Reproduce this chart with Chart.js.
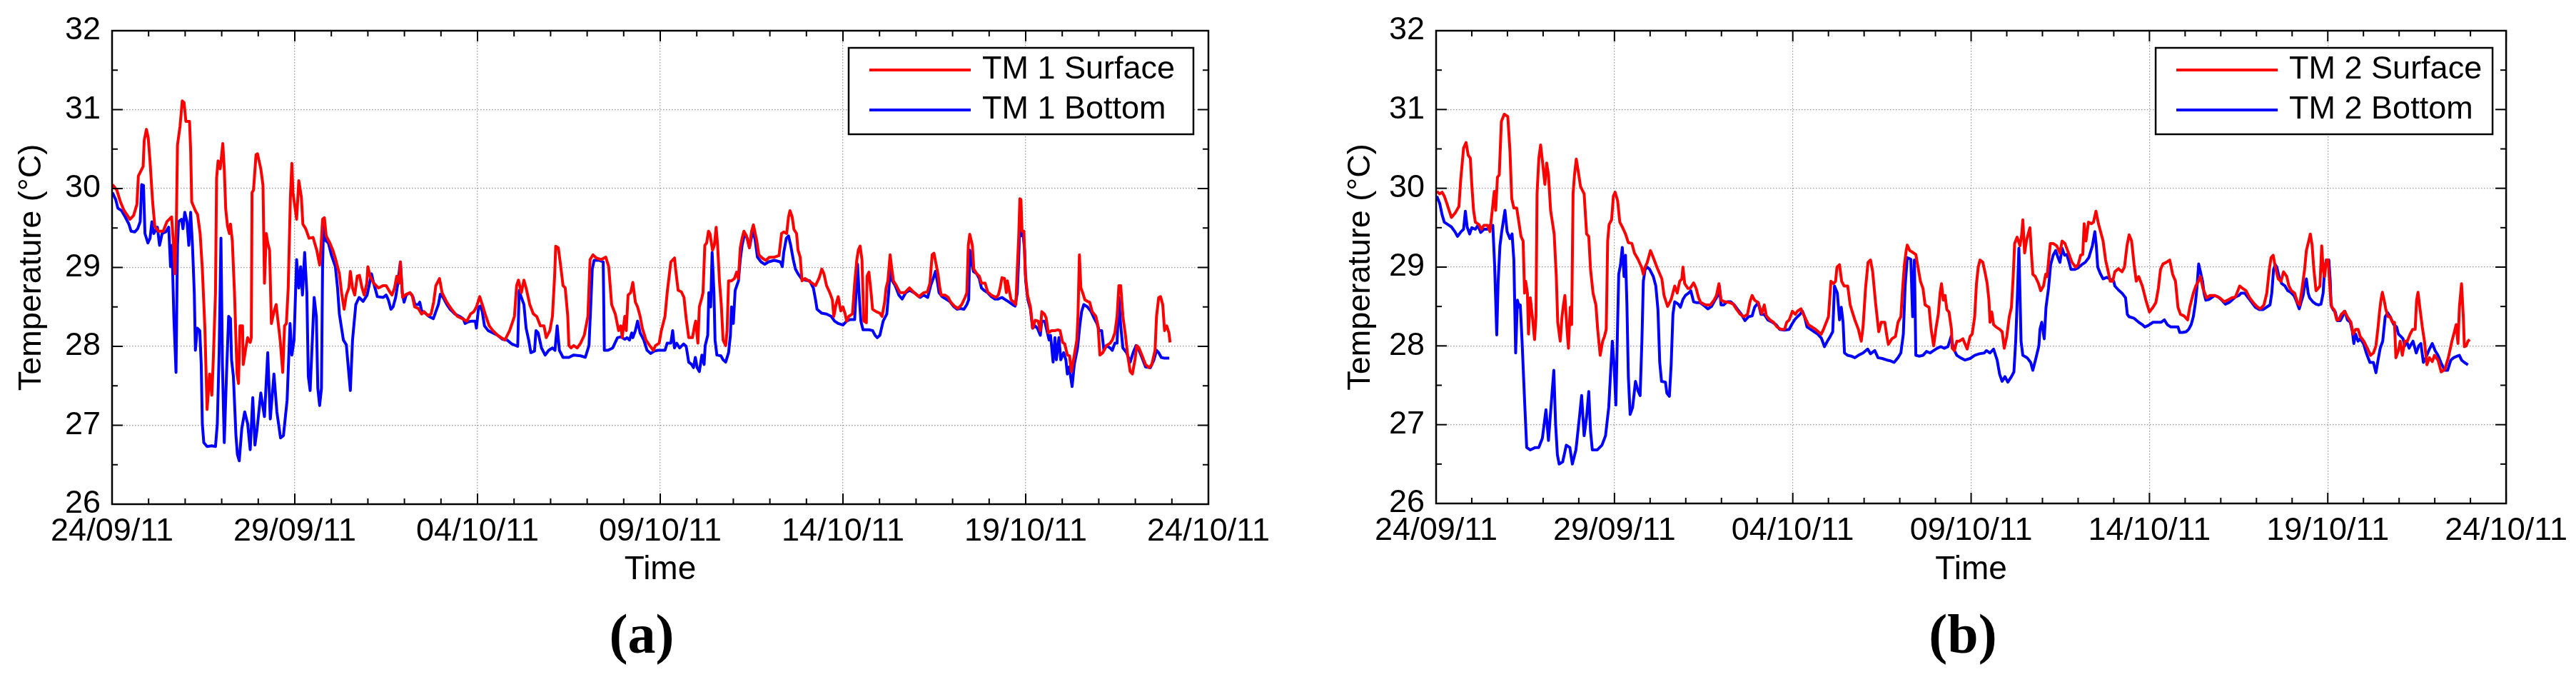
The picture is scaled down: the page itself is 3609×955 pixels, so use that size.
<!DOCTYPE html>
<html>
<head>
<meta charset="utf-8">
<title>TM 1 / TM 2 temperature</title>
<script src="https://cdn.jsdelivr.net/npm/chart.js@4.4.1/dist/chart.umd.min.js"></script>
<style>
  html, body { margin: 0; padding: 0; background: #fff; }
  body { width: 3609px; height: 955px; position: relative; overflow: hidden; }
  canvas { position: absolute; top: 0; }
  #chartA { left: 0; }
  #chartB { left: 1804px; }
</style>
</head>
<body>
<canvas id="chartA" width="1804" height="955"></canvas>
<canvas id="chartB" width="1805" height="955"></canvas>
<script>
// ---- data: [days since 24/09/11 00:00, temperature °C] ----
const xTickDays = [0, 5, 10, 15, 20, 25, 30];
const xTickLabels = ['24/09/11', '29/09/11', '04/10/11', '09/10/11', '14/10/11', '19/10/11', '24/10/11'];
const yTickValues = [26, 27, 28, 29, 30, 31, 32];

const tm1Surface = [
  [0.01,30.05],[0.13,29.98],[0.23,29.83],[0.33,29.72],[0.49,29.61],[0.59,29.66],[0.68,29.80],[0.72,30.16],[0.85,30.28],[0.88,30.61],
  [0.94,30.75],[0.99,30.64],[1.04,30.34],[1.11,29.83],[1.17,29.52],[1.27,29.46],[1.40,29.46],[1.50,29.58],[1.63,29.64],[1.69,29.22],
  [1.72,28.92],[1.76,29.58],[1.79,30.55],[1.86,30.79],[1.92,31.11],[1.97,31.09],[2.02,30.85],[2.12,30.85],[2.15,30.49],[2.18,29.83],
  [2.28,29.72],[2.34,29.67],[2.41,29.43],[2.47,28.98],[2.54,28.23],[2.60,27.20],[2.67,27.65],[2.73,27.38],[2.77,27.83],[2.83,28.68],
  [2.86,30.13],[2.90,30.35],[2.96,30.25],[3.03,30.57],[3.07,30.25],[3.11,29.74],[3.16,29.52],[3.21,29.43],[3.24,29.55],[3.29,29.34],
  [3.35,28.68],[3.42,27.65],[3.46,27.53],[3.50,28.26],[3.57,28.26],[3.59,27.77],[3.65,27.95],[3.71,28.11],[3.78,28.05],[3.81,28.11],
  [3.83,29.95],[3.87,29.98],[3.94,30.43],[3.98,30.44],[4.07,30.25],[4.13,30.04],[4.17,28.80],[4.22,29.43],[4.26,29.31],[4.31,29.22],
  [4.36,28.29],[4.43,28.44],[4.49,28.53],[4.54,28.32],[4.60,28.08],[4.67,27.67],[4.72,28.26],[4.77,28.29],[4.82,28.74],[4.88,29.89],
  [4.92,30.32],[4.95,29.95],[5.05,29.61],[5.11,30.10],[5.18,29.89],[5.22,29.55],[5.30,29.49],[5.39,29.37],[5.50,29.38],[5.60,29.22],
  [5.68,29.03],[5.72,29.28],[5.76,29.61],[5.81,29.63],[5.86,29.40],[5.96,29.31],[6.04,29.22],[6.12,29.10],[6.22,28.92],[6.28,28.68],
  [6.35,28.47],[6.41,28.65],[6.48,28.74],[6.52,28.95],[6.58,28.74],[6.64,28.65],[6.71,28.89],[6.77,28.90],[6.84,28.74],[6.90,28.65],
  [6.97,28.80],[7.00,29.01],[7.06,28.89],[7.16,28.80],[7.29,28.74],[7.42,28.77],[7.50,28.77],[7.60,28.69],[7.66,28.65],[7.73,28.74],
  [7.79,28.89],[7.86,28.80],[7.89,29.07],[7.95,28.62],[8.05,28.66],[8.15,28.68],[8.21,28.65],[8.28,28.50],[8.38,28.48],[8.47,28.41],
  [8.54,28.44],[8.64,28.39],[8.73,28.41],[8.80,28.56],[8.86,28.77],[8.96,28.86],[9.03,28.68],[9.16,28.56],[9.29,28.47],[9.45,28.38],
  [9.58,28.35],[9.71,28.32],[9.81,28.41],[9.90,28.44],[9.97,28.50],[10.06,28.63],[10.13,28.53],[10.23,28.38],[10.32,28.26],[10.42,28.20],
  [10.55,28.14],[10.75,28.08],[10.88,28.20],[11.01,28.38],[11.07,28.77],[11.12,28.84],[11.20,28.68],[11.27,28.84],[11.33,28.74],[11.43,28.53],
  [11.53,28.41],[11.62,28.38],[11.72,28.26],[11.82,28.26],[11.88,28.11],[11.98,28.20],[12.05,28.38],[12.11,28.89],[12.14,29.27],[12.21,29.25],
  [12.27,29.04],[12.34,28.77],[12.40,28.74],[12.47,28.38],[12.50,28.01],[12.56,27.98],[12.63,28.01],[12.73,27.98],[12.82,28.04],[12.92,28.14],
  [13.02,28.38],[13.08,29.10],[13.16,29.16],[13.25,29.12],[13.38,29.10],[13.51,29.13],[13.59,29.01],[13.67,28.53],[13.77,28.41],[13.86,28.20],
  [13.92,28.26],[13.96,28.11],[14.03,28.38],[14.07,28.20],[14.12,28.65],[14.19,28.68],[14.25,28.81],[14.32,28.56],[14.38,28.50],[14.45,28.38],
  [14.51,28.23],[14.61,28.08],[14.71,28.01],[14.81,27.95],[14.87,28.01],[14.97,28.04],[15.03,28.20],[15.13,28.38],[15.19,28.68],[15.29,29.07],
  [15.39,29.12],[15.42,28.98],[15.49,28.71],[15.58,28.69],[15.65,28.62],[15.71,28.35],[15.78,28.11],[15.88,28.11],[15.94,28.26],[15.97,28.32],
  [16.03,28.04],[16.07,28.50],[16.14,28.62],[16.17,28.68],[16.22,29.28],[16.27,29.31],[16.32,29.46],[16.36,29.43],[16.43,29.22],[16.48,29.28],
  [16.53,29.51],[16.57,29.28],[16.62,28.83],[16.67,28.53],[16.72,28.08],[16.79,28.01],[16.83,28.20],[16.87,28.83],[16.95,28.83],[17.03,28.86],
  [17.09,28.94],[17.14,28.86],[17.19,29.25],[17.24,29.37],[17.29,29.46],[17.36,29.40],[17.44,29.25],[17.50,29.46],[17.55,29.54],[17.64,29.34],
  [17.70,29.16],[17.79,29.12],[17.89,29.09],[17.99,29.13],[18.12,29.13],[18.25,29.15],[18.32,29.43],[18.38,29.45],[18.46,29.43],[18.51,29.64],
  [18.55,29.72],[18.61,29.64],[18.66,29.48],[18.73,29.43],[18.77,29.22],[18.83,29.13],[18.88,28.83],[18.96,28.86],[19.06,28.83],[19.16,28.80],
  [19.25,28.77],[19.35,28.87],[19.42,28.98],[19.48,28.92],[19.55,28.77],[19.64,28.68],[19.71,28.59],[19.75,28.38],[19.81,28.53],[19.87,28.63],
  [19.94,28.45],[20.00,28.50],[20.06,28.41],[20.10,28.32],[20.16,28.38],[20.26,28.41],[20.32,28.80],[20.38,29.10],[20.42,29.22],[20.47,29.27],
  [20.52,29.10],[20.57,28.32],[20.64,28.30],[20.66,28.89],[20.71,28.94],[20.77,28.68],[20.81,28.47],[20.91,28.44],[21.01,28.42],[21.07,28.38],
  [21.14,28.56],[21.18,28.74],[21.23,28.83],[21.29,29.16],[21.33,29.01],[21.38,28.83],[21.46,28.77],[21.56,28.68],[21.69,28.68],[21.82,28.74],
  [21.95,28.68],[22.08,28.63],[22.21,28.68],[22.31,28.69],[22.38,28.80],[22.44,29.16],[22.49,29.18],[22.60,28.92],[22.65,28.74],[22.69,28.65],
  [22.79,28.65],[22.88,28.62],[22.95,28.56],[23.05,28.51],[23.15,28.48],[23.25,28.53],[23.34,28.62],[23.39,28.68],[23.43,29.28],[23.47,29.42],
  [23.54,29.28],[23.58,28.98],[23.66,28.92],[23.73,28.89],[23.79,28.80],[23.89,28.80],[23.96,28.69],[24.06,28.65],[24.19,28.62],[24.25,28.65],
  [24.30,28.74],[24.35,28.87],[24.42,28.86],[24.47,28.68],[24.50,28.83],[24.55,28.71],[24.60,28.59],[24.68,28.56],[24.73,28.53],[24.77,28.98],
  [24.81,29.40],[24.84,29.87],[24.87,29.86],[24.90,29.46],[24.95,29.46],[24.99,28.92],[25.05,28.65],[25.13,28.50],[25.19,28.23],[25.26,28.33],
  [25.34,28.32],[25.40,28.20],[25.44,28.44],[25.51,28.41],[25.56,28.36],[25.62,28.17],[25.71,28.20],[25.81,28.20],[25.88,28.21],[25.94,28.20],
  [26.01,28.05],[26.07,28.03],[26.14,27.89],[26.20,27.88],[26.25,27.68],[26.32,27.86],[26.40,28.08],[26.43,28.38],[26.47,29.16],[26.51,28.74],
  [26.56,28.68],[26.62,28.59],[26.69,28.57],[26.75,28.56],[26.82,28.44],[26.92,28.38],[26.98,28.26],[27.03,27.89],[27.11,27.92],[27.21,28.01],
  [27.31,28.04],[27.37,28.08],[27.44,28.17],[27.50,28.38],[27.55,28.77],[27.60,28.77],[27.66,28.38],[27.73,28.14],[27.79,27.89],[27.86,27.68],
  [27.92,27.65],[27.99,27.83],[28.04,28.01],[28.10,27.98],[28.18,27.89],[28.28,27.77],[28.38,27.73],[28.45,27.77],[28.54,27.95],[28.58,28.38],
  [28.64,28.62],[28.69,28.63],[28.75,28.53],[28.80,28.20],[28.86,28.26],[28.92,28.17],[28.95,28.05]
];

const tm1Bottom = [
  [0.01,29.95],[0.10,29.86],[0.16,29.75],[0.26,29.72],[0.36,29.64],[0.46,29.55],[0.52,29.46],[0.62,29.45],[0.70,29.49],[0.77,29.58],
  [0.81,30.05],[0.86,30.04],[0.90,29.43],[0.98,29.31],[1.04,29.37],[1.09,29.58],[1.14,29.43],[1.24,29.51],[1.30,29.28],[1.37,29.43],
  [1.47,29.45],[1.55,29.51],[1.60,29.01],[1.64,29.28],[1.69,28.38],[1.75,27.67],[1.79,29.28],[1.82,29.58],[1.90,29.61],[1.94,29.49],
  [1.99,29.70],[2.05,29.58],[2.10,29.28],[2.15,29.70],[2.20,29.28],[2.25,28.68],[2.28,27.95],[2.33,28.23],[2.40,28.20],[2.44,27.77],
  [2.47,27.02],[2.51,26.78],[2.60,26.73],[2.73,26.74],[2.83,26.73],[2.88,27.02],[2.93,27.92],[2.98,29.37],[3.02,27.77],[3.07,26.78],
  [3.13,27.62],[3.19,28.38],[3.24,28.35],[3.27,27.83],[3.32,27.62],[3.39,26.87],[3.43,26.63],[3.48,26.55],[3.55,26.96],[3.63,27.17],
  [3.71,27.02],[3.78,26.69],[3.85,27.35],[3.91,26.75],[3.97,26.96],[4.07,27.41],[4.17,27.11],[4.26,27.92],[4.33,27.08],[4.43,27.65],
  [4.51,27.17],[4.61,26.84],[4.69,26.87],[4.79,27.32],[4.87,28.29],[4.92,27.89],[4.98,28.08],[5.05,29.10],[5.11,28.74],[5.16,29.01],
  [5.21,28.65],[5.27,29.19],[5.33,28.68],[5.37,27.62],[5.42,27.44],[5.48,28.08],[5.53,28.62],[5.59,28.38],[5.63,27.47],[5.68,27.25],
  [5.73,27.47],[5.76,28.98],[5.79,29.61],[5.85,29.34],[5.92,29.31],[6.00,29.16],[6.11,29.01],[6.17,28.74],[6.22,28.41],[6.33,28.08],
  [6.41,28.02],[6.48,27.65],[6.52,27.44],[6.58,28.08],[6.67,28.53],[6.76,28.62],[6.87,28.57],[6.98,28.65],[7.10,28.92],[7.16,28.80],
  [7.26,28.63],[7.42,28.62],[7.50,28.65],[7.56,28.59],[7.63,28.47],[7.69,28.50],[7.76,28.62],[7.82,28.80],[7.89,29.07],[7.94,28.68],
  [7.99,28.56],[8.05,28.65],[8.15,28.68],[8.23,28.63],[8.29,28.53],[8.38,28.53],[8.42,28.56],[8.47,28.45],[8.57,28.42],[8.67,28.38],
  [8.79,28.35],[8.86,28.44],[8.93,28.53],[8.98,28.66],[9.06,28.62],[9.16,28.53],[9.25,28.47],[9.38,28.41],[9.51,28.38],[9.61,28.35],
  [9.66,28.29],[9.74,28.31],[9.84,28.32],[9.94,28.32],[9.97,28.23],[10.03,28.50],[10.08,28.51],[10.13,28.44],[10.19,28.26],[10.29,28.20],
  [10.42,28.17],[10.55,28.14],[10.68,28.09],[10.81,28.08],[10.94,28.03],[11.10,28.00],[11.14,28.71],[11.20,28.62],[11.27,28.53],[11.33,28.23],
  [11.40,28.08],[11.46,27.92],[11.56,27.94],[11.60,28.20],[11.66,28.17],[11.75,27.98],[11.85,27.89],[11.95,27.95],[12.05,27.98],[12.12,27.95],
  [12.18,28.26],[12.24,27.95],[12.34,27.86],[12.50,27.86],[12.63,27.89],[12.82,27.88],[12.95,27.86],[13.05,28.01],[13.10,28.53],[13.14,28.98],
  [13.19,29.09],[13.34,29.09],[13.44,29.07],[13.47,27.95],[13.57,27.95],[13.70,27.98],[13.83,28.11],[13.93,28.12],[14.03,28.09],[14.09,28.11],
  [14.16,28.08],[14.22,28.17],[14.25,28.11],[14.32,28.20],[14.38,28.32],[14.45,28.17],[14.55,28.08],[14.64,27.95],[14.74,27.91],[14.84,27.94],
  [14.94,27.95],[15.03,27.95],[15.13,27.95],[15.19,28.04],[15.29,28.04],[15.34,28.20],[15.39,27.98],[15.45,28.04],[15.53,27.98],[15.64,28.03],
  [15.71,28.00],[15.78,27.80],[15.86,27.77],[15.91,27.73],[15.96,27.86],[16.01,27.73],[16.07,27.68],[16.14,27.89],[16.20,27.77],[16.23,28.01],
  [16.30,28.14],[16.33,28.68],[16.38,28.50],[16.42,29.19],[16.47,28.68],[16.50,28.08],[16.55,27.89],[16.66,27.88],[16.72,27.83],[16.79,27.80],
  [16.87,27.92],[16.92,28.14],[16.95,28.50],[17.00,28.29],[17.05,28.71],[17.14,28.83],[17.19,29.10],[17.24,29.28],[17.31,29.43],[17.38,29.37],
  [17.44,29.25],[17.54,29.48],[17.60,29.34],[17.66,29.13],[17.76,29.07],[17.86,29.04],[17.96,29.07],[18.12,29.09],[18.29,29.07],[18.34,29.01],
  [18.38,29.19],[18.45,29.37],[18.51,29.40],[18.57,29.28],[18.64,29.10],[18.70,28.98],[18.77,28.92],[18.86,28.86],[18.96,28.84],[19.09,28.83],
  [19.19,28.74],[19.25,28.59],[19.29,28.47],[19.42,28.42],[19.55,28.41],[19.68,28.38],[19.77,28.32],[19.87,28.29],[20.00,28.27],[20.10,28.32],
  [20.19,28.34],[20.32,28.34],[20.40,29.04],[20.44,28.68],[20.49,28.32],[20.55,28.21],[20.71,28.21],[20.81,28.20],[20.88,28.14],[20.94,28.11],
  [21.01,28.14],[21.10,28.32],[21.20,28.41],[21.25,28.68],[21.30,29.04],[21.35,28.83],[21.43,28.77],[21.53,28.65],[21.62,28.60],[21.72,28.68],
  [21.82,28.71],[21.95,28.68],[22.11,28.62],[22.21,28.65],[22.32,28.62],[22.40,28.77],[22.47,28.86],[22.53,28.95],[22.58,28.83],[22.63,28.68],
  [22.71,28.63],[22.82,28.60],[22.92,28.57],[23.02,28.51],[23.12,28.47],[23.21,28.48],[23.31,28.47],[23.39,28.53],[23.44,28.59],[23.47,29.22],
  [23.52,29.07],[23.57,28.95],[23.66,28.92],[23.73,28.86],[23.79,28.74],[23.86,28.71],[23.96,28.68],[24.06,28.63],[24.16,28.60],[24.25,28.60],
  [24.35,28.62],[24.45,28.59],[24.55,28.56],[24.64,28.53],[24.71,28.51],[24.77,28.68],[24.81,29.13],[24.84,29.55],[24.87,29.40],[24.92,29.46],
  [24.97,29.22],[25.00,28.83],[25.06,28.59],[25.13,28.47],[25.19,28.23],[25.26,28.26],[25.32,28.23],[25.40,28.14],[25.44,28.32],[25.52,28.32],
  [25.58,28.20],[25.64,28.08],[25.68,28.14],[25.75,27.80],[25.80,28.11],[25.84,27.83],[25.91,28.11],[25.96,27.83],[26.04,27.92],[26.10,27.83],
  [26.14,27.65],[26.19,27.74],[26.27,27.49],[26.33,27.77],[26.42,27.98],[26.48,28.26],[26.53,28.44],[26.59,28.53],[26.69,28.50],[26.79,28.44],
  [26.88,28.35],[26.95,28.29],[27.01,28.20],[27.08,28.20],[27.14,27.95],[27.21,28.01],[27.31,27.98],[27.37,27.95],[27.44,28.04],[27.50,28.04],
  [27.55,28.62],[27.60,28.26],[27.66,27.98],[27.76,27.92],[27.86,27.80],[27.94,27.92],[28.02,28.01],[28.10,27.95],[28.18,27.86],[28.28,27.74],
  [28.41,27.73],[28.51,27.83],[28.58,27.95],[28.64,27.92],[28.71,27.86],[28.80,27.85],[28.93,27.85]
];

const tm2Surface = [
  [0.02,29.96],[0.10,29.93],[0.17,29.95],[0.23,29.90],[0.30,29.81],[0.37,29.71],[0.43,29.63],[0.54,29.69],[0.64,29.77],[0.69,30.11],
  [0.77,30.51],[0.84,30.58],[0.90,30.42],[0.96,30.38],[1.00,30.05],[1.05,29.72],[1.10,29.57],[1.20,29.54],[1.27,29.48],[1.34,29.53],
  [1.44,29.53],[1.51,29.45],[1.56,29.66],[1.63,29.96],[1.67,29.72],[1.72,30.14],[1.77,30.17],[1.83,30.85],[1.91,30.94],[2.01,30.91],
  [2.07,30.48],[2.12,29.87],[2.18,29.75],[2.26,29.75],[2.31,29.60],[2.38,29.39],[2.44,29.33],[2.48,28.67],[2.51,28.82],[2.56,28.67],
  [2.59,28.15],[2.64,28.61],[2.70,28.37],[2.76,28.08],[2.80,28.37],[2.83,29.93],[2.88,30.38],[2.93,30.55],[2.98,30.35],[3.05,30.05],
  [3.10,30.32],[3.15,30.17],[3.21,29.72],[3.28,29.51],[3.31,29.42],[3.37,28.88],[3.41,28.30],[3.48,28.06],[3.53,28.37],[3.57,28.52],
  [3.61,28.64],[3.67,28.21],[3.71,27.97],[3.76,28.49],[3.80,28.27],[3.84,29.93],[3.88,30.17],[3.93,30.37],[3.98,30.23],[4.05,30.02],
  [4.15,29.93],[4.22,29.42],[4.28,29.39],[4.33,28.97],[4.40,28.67],[4.48,28.52],[4.53,28.21],[4.60,27.88],[4.67,28.06],[4.72,28.12],
  [4.77,28.21],[4.81,29.33],[4.85,29.54],[4.92,29.60],[4.97,29.90],[5.02,29.95],[5.09,29.84],[5.15,29.57],[5.22,29.51],[5.31,29.42],
  [5.39,29.31],[5.49,29.30],[5.56,29.18],[5.66,29.10],[5.76,29.00],[5.81,28.91],[5.86,29.00],[5.92,29.06],[6.01,29.21],[6.09,29.12],
  [6.19,29.00],[6.33,28.85],[6.39,28.64],[6.49,28.50],[6.59,28.59],[6.69,28.76],[6.76,28.67],[6.83,28.82],[6.89,28.85],[6.92,29.00],
  [6.97,28.79],[7.06,28.73],[7.12,28.73],[7.22,28.80],[7.29,28.73],[7.36,28.61],[7.42,28.55],[7.56,28.52],[7.69,28.52],[7.79,28.58],
  [7.86,28.64],[7.93,28.79],[7.99,28.58],[8.09,28.56],[8.23,28.55],[8.33,28.53],[8.43,28.46],[8.53,28.40],[8.63,28.37],[8.73,28.40],
  [8.80,28.56],[8.86,28.64],[8.93,28.58],[9.03,28.55],[9.13,28.41],[9.20,28.52],[9.26,28.38],[9.36,28.33],[9.46,28.30],[9.56,28.24],
  [9.67,28.21],[9.77,28.21],[9.83,28.30],[9.90,28.33],[9.99,28.44],[10.07,28.40],[10.13,28.44],[10.23,28.47],[10.33,28.37],[10.44,28.27],
  [10.54,28.24],[10.64,28.21],[10.74,28.17],[10.80,28.15],[10.87,28.22],[10.94,28.30],[11.00,28.37],[11.07,28.82],[11.14,28.79],[11.20,28.82],
  [11.24,29.00],[11.31,29.03],[11.37,28.82],[11.44,28.76],[11.54,28.76],[11.61,28.52],[11.67,28.43],[11.74,28.33],[11.84,28.21],[11.92,28.06],
  [11.97,28.24],[12.04,28.73],[12.11,29.06],[12.18,29.09],[12.24,28.94],[12.32,28.55],[12.41,28.18],[12.48,28.30],[12.58,28.30],[12.64,28.12],
  [12.68,28.02],[12.78,28.09],[12.88,28.12],[12.95,28.30],[13.03,28.37],[13.08,28.73],[13.13,29.03],[13.18,29.21],[13.21,29.28],[13.28,29.21],
  [13.35,29.19],[13.45,29.16],[13.51,29.00],[13.58,28.82],[13.65,28.73],[13.71,28.52],[13.82,28.49],[13.88,28.21],[13.95,28.00],[14.02,28.24],
  [14.08,28.40],[14.13,28.67],[14.17,28.79],[14.22,28.58],[14.27,28.64],[14.32,28.46],[14.38,28.43],[14.45,28.21],[14.47,27.97],[14.53,27.94],
  [14.60,28.06],[14.67,28.06],[14.77,28.09],[14.89,27.96],[14.97,28.12],[15.03,28.15],[15.10,28.37],[15.15,28.79],[15.20,29.00],[15.25,29.09],
  [15.33,29.06],[15.40,28.91],[15.45,28.79],[15.50,28.58],[15.53,28.30],[15.58,28.43],[15.63,28.27],[15.70,28.24],[15.80,28.21],[15.87,28.18],
  [15.93,27.97],[16.00,28.12],[16.07,28.37],[16.13,28.49],[16.18,28.88],[16.22,29.30],[16.29,29.38],[16.37,29.27],[16.42,29.42],[16.45,29.60],
  [16.50,29.18],[16.55,29.33],[16.60,29.42],[16.65,29.50],[16.69,29.18],[16.73,28.91],[16.80,28.88],[16.89,28.79],[16.95,28.70],[17.03,28.76],
  [17.09,28.91],[17.13,28.88],[17.18,29.12],[17.22,29.30],[17.30,29.30],[17.40,29.27],[17.49,29.18],[17.55,29.33],[17.63,29.30],[17.73,29.18],
  [17.83,29.06],[17.93,29.00],[18.00,29.03],[18.07,29.15],[18.13,29.16],[18.17,29.55],[18.22,29.33],[18.29,29.57],[18.37,29.55],[18.43,29.57],
  [18.50,29.71],[18.57,29.55],[18.63,29.45],[18.70,29.33],[18.77,29.09],[18.83,28.97],[18.90,28.82],[18.97,28.82],[19.03,28.94],[19.13,28.98],
  [19.23,28.94],[19.30,29.00],[19.37,29.27],[19.43,29.41],[19.50,29.33],[19.57,29.03],[19.63,28.82],[19.70,28.88],[19.80,28.76],[19.90,28.58],
  [20.00,28.43],[20.10,28.49],[20.18,28.55],[20.25,28.73],[20.31,28.97],[20.38,29.04],[20.47,29.06],[20.57,29.09],[20.65,28.91],[20.73,28.82],
  [20.80,28.49],[20.87,28.40],[20.97,28.38],[21.07,28.33],[21.13,28.49],[21.23,28.67],[21.30,28.76],[21.37,28.82],[21.43,28.88],[21.50,28.73],
  [21.60,28.61],[21.70,28.64],[21.83,28.64],[21.97,28.61],[22.10,28.56],[22.23,28.59],[22.31,28.61],[22.41,28.62],[22.53,28.76],[22.61,28.73],
  [22.71,28.70],[22.81,28.61],[22.91,28.55],[23.01,28.50],[23.11,28.47],[23.21,28.52],[23.29,28.67],[23.36,28.97],[23.41,29.12],[23.47,29.15],
  [23.53,29.00],[23.61,28.85],[23.69,28.82],[23.76,28.94],[23.85,28.88],[23.91,28.76],[23.98,28.70],[24.07,28.67],[24.15,28.55],[24.21,28.52],
  [24.28,28.73],[24.35,28.97],[24.40,29.21],[24.47,29.34],[24.51,29.42],[24.56,29.28],[24.61,28.97],[24.67,28.70],[24.73,28.73],[24.78,28.76],
  [24.83,29.27],[24.87,28.97],[24.91,28.88],[24.96,29.09],[25.01,29.09],[25.07,28.67],[25.11,28.49],[25.18,28.46],[25.25,28.33],[25.31,28.33],
  [25.38,28.40],[25.47,28.44],[25.55,28.37],[25.65,28.30],[25.71,28.15],[25.78,28.21],[25.85,28.21],[25.91,28.12],[26.01,28.06],[26.11,27.97],
  [26.20,27.88],[26.28,27.91],[26.35,28.00],[26.41,28.24],[26.45,28.43],[26.49,28.58],[26.53,28.68],[26.58,28.58],[26.63,28.46],[26.69,28.37],
  [26.75,28.37],[26.81,28.30],[26.87,28.30],[26.91,27.85],[26.98,27.94],[27.03,28.06],[27.09,27.88],[27.16,28.06],[27.23,28.06],[27.31,28.15],
  [27.38,28.21],[27.45,28.21],[27.49,28.58],[27.53,28.68],[27.58,28.49],[27.65,28.24],[27.71,28.06],[27.78,27.76],[27.85,27.85],[27.93,27.80],
  [27.99,27.88],[28.09,27.82],[28.18,27.67],[28.28,27.70],[28.38,27.85],[28.48,28.06],[28.55,28.18],[28.60,28.27],[28.65,28.03],[28.69,28.49],
  [28.75,28.79],[28.80,28.37],[28.83,27.99],[28.88,28.00],[28.93,28.06],[28.98,28.08]
];

const tm2Bottom = [
  [0.02,29.90],[0.10,29.81],[0.17,29.66],[0.23,29.57],[0.33,29.54],[0.43,29.51],[0.54,29.44],[0.60,29.39],[0.70,29.45],[0.77,29.48],
  [0.82,29.71],[0.87,29.51],[0.94,29.42],[1.00,29.50],[1.10,29.48],[1.17,29.53],[1.25,29.44],[1.34,29.48],[1.44,29.48],[1.51,29.53],
  [1.59,29.53],[1.64,29.03],[1.70,28.14],[1.74,28.82],[1.79,29.27],[1.84,29.45],[1.89,29.60],[1.93,29.72],[1.99,29.45],[2.07,29.36],
  [2.13,29.42],[2.18,29.09],[2.23,27.91],[2.28,28.58],[2.33,28.49],[2.36,28.52],[2.41,28.06],[2.48,27.31],[2.54,26.71],[2.64,26.68],
  [2.78,26.71],[2.88,26.71],[2.98,26.83],[3.08,27.19],[3.15,26.80],[3.21,27.16],[3.30,27.69],[3.35,27.01],[3.40,26.62],[3.45,26.50],
  [3.55,26.53],[3.65,26.74],[3.75,26.71],[3.82,26.50],[3.92,26.68],[4.02,27.10],[4.08,27.37],[4.15,26.86],[4.22,27.10],[4.28,27.42],
  [4.33,26.92],[4.38,26.68],[4.52,26.68],[4.65,26.74],[4.75,26.86],[4.84,27.22],[4.89,27.64],[4.94,28.06],[4.99,27.76],[5.04,27.25],
  [5.09,28.30],[5.12,28.91],[5.17,29.03],[5.22,29.25],[5.27,28.88],[5.31,29.15],[5.35,28.52],[5.39,27.61],[5.44,27.13],[5.51,27.22],
  [5.59,27.55],[5.66,27.43],[5.72,27.37],[5.77,28.06],[5.81,28.82],[5.86,28.97],[5.92,29.00],[5.99,28.97],[6.09,28.88],[6.16,28.76],
  [6.22,28.46],[6.27,27.79],[6.32,27.55],[6.43,27.54],[6.47,27.40],[6.54,27.36],[6.59,27.76],[6.64,28.40],[6.69,28.56],[6.79,28.53],
  [6.85,28.49],[6.92,28.59],[6.99,28.64],[7.08,28.67],[7.14,28.70],[7.22,28.56],[7.29,28.55],[7.39,28.55],[7.49,28.52],[7.62,28.47],
  [7.72,28.50],[7.82,28.58],[7.90,28.64],[7.94,28.76],[7.99,28.52],[8.06,28.52],[8.16,28.56],[8.26,28.56],[8.36,28.52],[8.46,28.46],
  [8.56,28.40],[8.66,28.32],[8.76,28.37],[8.86,28.38],[8.93,28.49],[9.03,28.55],[9.11,28.40],[9.20,28.40],[9.30,28.33],[9.43,28.30],
  [9.53,28.27],[9.63,28.21],[9.77,28.20],[9.90,28.21],[9.97,28.27],[10.05,28.33],[10.13,28.37],[10.20,28.40],[10.27,28.44],[10.33,28.37],
  [10.40,28.24],[10.50,28.21],[10.60,28.18],[10.70,28.15],[10.80,28.10],[10.89,27.99],[10.97,28.06],[11.05,28.12],[11.12,28.18],[11.17,28.76],
  [11.25,28.67],[11.31,28.33],[11.36,28.49],[11.41,28.30],[11.45,27.91],[11.54,27.88],[11.64,27.87],[11.74,27.85],[11.84,27.88],[11.97,27.91],
  [12.10,27.96],[12.18,27.90],[12.30,27.94],[12.39,27.85],[12.51,27.84],[12.64,27.82],[12.74,27.81],[12.84,27.79],[12.95,27.85],[13.03,27.91],
  [13.10,28.15],[13.15,28.76],[13.21,29.12],[13.31,29.10],[13.36,28.37],[13.41,29.09],[13.45,27.88],[13.55,27.87],[13.65,27.88],[13.75,27.93],
  [13.85,27.91],[13.95,27.94],[14.05,27.97],[14.15,27.99],[14.25,27.97],[14.35,27.99],[14.40,28.06],[14.44,28.12],[14.50,27.97],[14.60,27.88],
  [14.70,27.85],[14.83,27.82],[14.97,27.84],[15.10,27.88],[15.23,27.90],[15.37,27.91],[15.43,27.94],[15.53,27.91],[15.63,27.96],[15.73,27.82],
  [15.80,27.64],[15.87,27.55],[15.95,27.61],[16.03,27.54],[16.13,27.61],[16.20,27.67],[16.25,28.06],[16.30,28.67],[16.34,29.24],[16.37,28.67],
  [16.40,28.06],[16.45,27.88],[16.57,27.85],[16.67,27.79],[16.73,27.69],[16.82,27.85],[16.90,28.00],[16.93,28.21],[16.98,28.30],[17.05,28.09],
  [17.10,28.49],[17.17,28.73],[17.23,29.03],[17.30,29.15],[17.37,29.21],[17.43,29.13],[17.49,29.06],[17.55,29.24],[17.62,29.15],[17.68,29.16],
  [17.73,29.09],[17.80,28.97],[17.90,28.97],[18.00,28.99],[18.10,29.03],[18.20,29.06],[18.30,29.12],[18.40,29.27],[18.47,29.45],[18.51,29.27],
  [18.55,29.00],[18.63,28.91],[18.70,28.85],[18.80,28.87],[18.90,28.85],[19.00,28.82],[19.03,28.76],[19.13,28.71],[19.23,28.67],[19.33,28.61],
  [19.38,28.40],[19.43,28.37],[19.57,28.35],[19.70,28.30],[19.80,28.27],[19.87,28.24],[19.97,28.26],[20.10,28.30],[20.23,28.30],[20.33,28.30],
  [20.42,28.33],[20.50,28.27],[20.60,28.24],[20.73,28.24],[20.80,28.24],[20.85,28.17],[20.93,28.17],[21.03,28.18],[21.10,28.21],[21.17,28.27],
  [21.23,28.37],[21.29,28.55],[21.33,28.73],[21.38,29.04],[21.43,28.94],[21.49,28.82],[21.53,28.67],[21.58,28.58],[21.67,28.59],[21.77,28.62],
  [21.83,28.64],[21.93,28.62],[22.03,28.58],[22.13,28.53],[22.23,28.55],[22.31,28.58],[22.41,28.62],[22.51,28.64],[22.57,28.67],[22.67,28.67],
  [22.77,28.61],[22.87,28.55],[22.97,28.49],[23.08,28.46],[23.18,28.46],[23.28,28.49],[23.38,28.52],[23.43,28.67],[23.48,28.97],[23.53,29.03],
  [23.57,29.00],[23.65,28.85],[23.71,28.79],[23.80,28.76],[23.88,28.70],[23.96,28.68],[24.05,28.64],[24.11,28.58],[24.20,28.47],[24.25,28.55],
  [24.31,28.64],[24.36,28.79],[24.40,28.85],[24.45,28.67],[24.49,28.61],[24.58,28.56],[24.67,28.53],[24.75,28.52],[24.81,28.53],[24.87,28.67],
  [24.91,28.97],[24.96,29.09],[25.03,29.09],[25.07,28.82],[25.09,28.52],[25.15,28.46],[25.21,28.43],[25.27,28.32],[25.35,28.32],[25.41,28.37],
  [25.48,28.44],[25.55,28.33],[25.63,28.30],[25.69,28.18],[25.73,28.03],[25.78,28.15],[25.85,28.06],[25.91,28.09],[26.00,28.03],[26.08,27.91],
  [26.18,27.79],[26.28,27.79],[26.35,27.66],[26.41,27.82],[26.47,27.97],[26.54,28.06],[26.61,28.37],[26.68,28.42],[26.75,28.37],[26.85,28.27],
  [26.93,28.24],[26.98,28.15],[27.05,28.12],[27.11,28.09],[27.16,28.00],[27.21,28.06],[27.28,27.97],[27.35,28.03],[27.39,28.06],[27.48,27.91],
  [27.55,28.00],[27.61,28.03],[27.68,27.79],[27.75,27.85],[27.83,27.94],[27.93,28.03],[28.01,27.94],[28.09,27.88],[28.18,27.78],[28.28,27.69],
  [28.36,27.69],[28.45,27.82],[28.53,27.85],[28.63,27.87],[28.69,27.88],[28.75,27.82],[28.83,27.79],[28.93,27.76]
];

// ---- drawing ----
const FONT = "'Liberation Sans', Arial, Helvetica, sans-serif";
Chart.defaults.font.family = FONT;
Chart.defaults.color = '#000';

const toXY = pts => pts.map(p => ({ x: p[0], y: p[1] }));

// MATLAB-like box: inward major/minor ticks on all sides, legend box, panel letter
const matlabFrame = {
  id: 'matlabFrame',
  afterDraw(chart, args, o) {
    const { ctx, chartArea: a, scales: { x, y } } = chart;
    const seg = (x1, y1, x2, y2) => { ctx.beginPath(); ctx.moveTo(x1, y1); ctx.lineTo(x2, y2); ctx.stroke(); };
    ctx.save();
    ctx.strokeStyle = '#000';
    ctx.lineWidth = 2;
    for (let d = x.min; d <= x.max + 1e-9; d += 1) {
      const px = x.getPixelForValue(d);
      const len = xTickDays.includes(d) ? 15 : 8;
      seg(px, a.bottom, px, a.bottom - len);
      seg(px, a.top, px, a.top + len);
    }
    for (let v = y.min; v <= y.max + 1e-9; v += 0.5) {
      const py = y.getPixelForValue(v);
      const len = Number.isInteger(v) ? 15 : 8;
      seg(a.left, py, a.left + len, py);
      seg(a.right, py, a.right - len, py);
    }
    ctx.lineWidth = 2.5;
    ctx.strokeRect(a.left, a.top, a.right - a.left, a.bottom - a.top);

    // legend
    const bx = a.right - o.legendRight - o.legendWidth, by = a.top + o.legendTop;
    ctx.fillStyle = '#fff';
    ctx.fillRect(bx, by, o.legendWidth, 121);
    ctx.strokeRect(bx, by, o.legendWidth, 121);
    ctx.font = '45px ' + FONT;
    ctx.textBaseline = 'middle';
    ctx.textAlign = 'left';
    chart.data.datasets.forEach((ds, i) => {
      const ly = by + 31 + i * 56;
      ctx.strokeStyle = ds.borderColor;
      ctx.lineWidth = 4;
      seg(bx + 29, ly, bx + 171, ly);
      ctx.fillStyle = '#000';
      ctx.fillText(ds.label, bx + 187, ly);
    });

    // panel letter
    ctx.font = 'bold 78px "Liberation Serif", "Times New Roman", serif';
    ctx.textAlign = 'center';
    ctx.textBaseline = 'alphabetic';
    ctx.fillStyle = '#000';
    ctx.fillText(o.panelLabel, o.panelLabelX, 914);
    ctx.restore();
  }
};

function makePanel(id, surface, bottom, names, box) {
  const canvas = document.getElementById(id);
  const W = canvas.width, H = canvas.height;
  return new Chart(canvas, {
    type: 'line',
    data: {
      datasets: [
        { label: names[0], data: toXY(surface), borderColor: '#ff0000', borderWidth: 4, pointRadius: 0, tension: 0, borderJoinStyle: 'round' },
        { label: names[1], data: toXY(bottom), borderColor: '#0000ff', borderWidth: 4, pointRadius: 0, tension: 0, borderJoinStyle: 'round' }
      ]
    },
    options: {
      responsive: false,
      animation: false,
      devicePixelRatio: 1,
      events: [],
      layout: { padding: { left: 0, top: box.top, right: W - box.right, bottom: 0 } },
      plugins: {
        legend: { display: false },
        tooltip: { enabled: false },
        matlabFrame: { legendWidth: box.legendWidth, legendRight: box.legendRight, legendTop: 24, panelLabel: box.panelLabel, panelLabelX: box.panelLabelX }
      },
      scales: {
        x: {
          type: 'linear', min: 0, max: 30,
          afterBuildTicks: s => { s.ticks = xTickDays.map(v => ({ value: v })); },
          afterFit: s => { s.height = H - box.bottom; },
          ticks: {
            autoSkip: false, maxRotation: 0, padding: 12,
            font: { size: 45 },
            callback: v => xTickLabels[xTickDays.indexOf(v)]
          },
          grid: { color: '#9a9a9a', lineWidth: 1.2, drawTicks: false },
          border: { display: false, dash: [1.5, 2.5] },
          title: { display: true, text: 'Time', font: { size: 46 }, padding: { top: 0, bottom: 129 } }
        },
        y: {
          min: 26, max: 32,
          afterBuildTicks: s => { s.ticks = yTickValues.map(v => ({ value: v })); },
          afterFit: s => { s.width = box.left; },
          ticks: { padding: 16, font: { size: 45 } },
          grid: { color: '#9a9a9a', lineWidth: 1.2, drawTicks: false },
          border: { display: false, dash: [1.5, 2.5] },
          title: { display: true, text: 'Temperature (°C)', font: { size: 45 }, padding: { top: box.yTitlePad, bottom: 0 } }
        }
      }
    },
    plugins: [matlabFrame]
  });
}

makePanel('chartA', tm1Surface, tm1Bottom, ['TM 1 Surface', 'TM 1 Bottom'],
  { left: 157, right: 1693, top: 43, bottom: 706, yTitlePad: 18, legendWidth: 483, legendRight: 21, panelLabel: '(a)', panelLabelX: 899 });
makePanel('chartB', tm2Surface, tm2Bottom, ['TM 2 Surface', 'TM 2 Bottom'],
  { left: 208, right: 1708, top: 41, bottom: 705, yTitlePad: 76, legendWidth: 472, legendRight: 19, panelLabel: '(b)', panelLabelX: 946 });
</script>
</body>
</html>
